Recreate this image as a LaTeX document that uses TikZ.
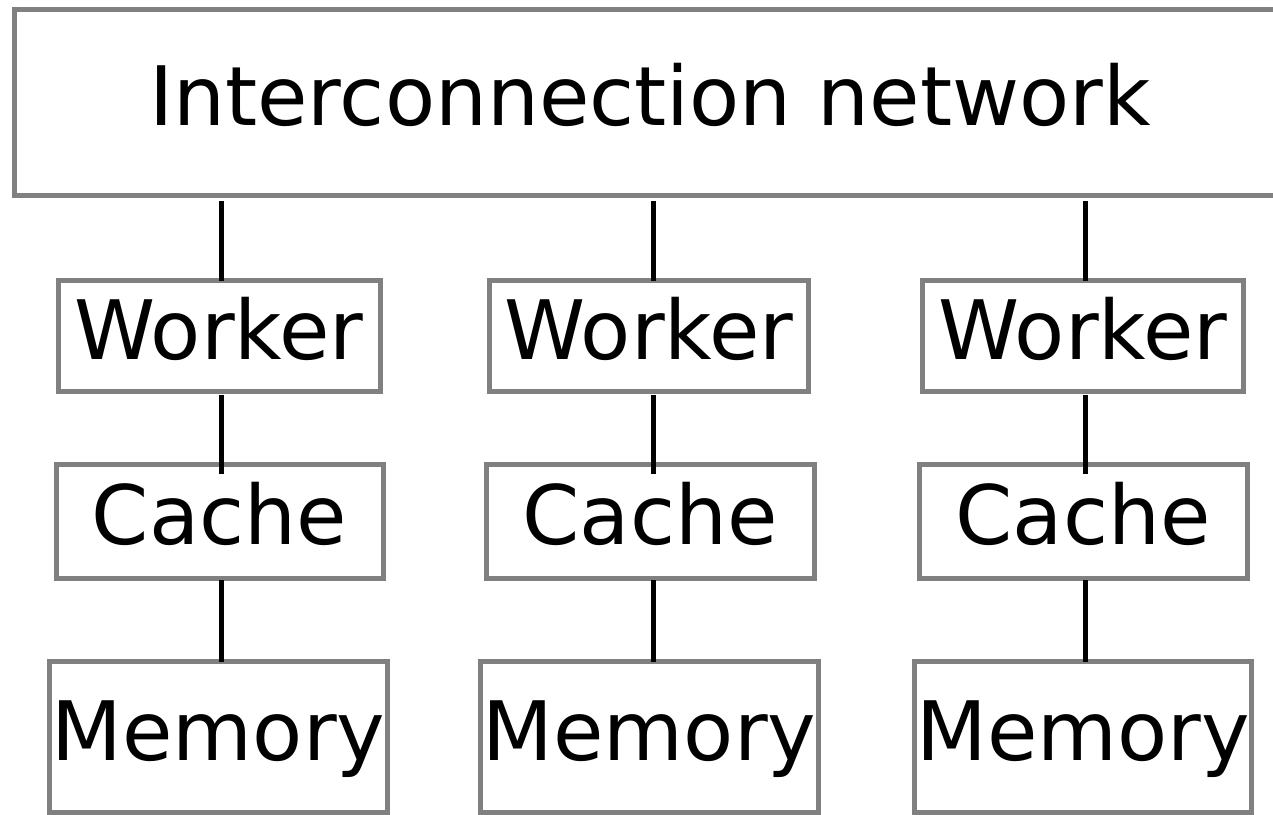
\documentclass[tikz,border=0pt]{standalone}
\usepackage{fontspec}
\setmainfont{DejaVu Sans}
\usepackage{tikz}
\usetikzlibrary{positioning}
\usepackage{xcolor}
\definecolor{BoxGray}{HTML}{808080}

\begin{document}
\begin{tikzpicture}[x=1pt, y=-1pt,
    box/.style={draw=BoxGray, fill=white, line width=5pt, inner sep=0pt, outer sep=0pt,
      font=\fontsize{82}{98}\selectfont, text height=66.5pt, text depth=19.5pt},
    link/.style={draw=black, line width=5pt}
  ]
    \useasboundingbox (0,0) rectangle (1273,814);
    \clip (0,0) rectangle (1273,814);

    \node[box, minimum width=1271pt, minimum height=185.5pt] (net) at (650, 102.25) {Interconnection network};

    \node[box, minimum width=322pt, minimum height=111pt] (w1) at (219, 336) {Worker};
    \node[box, minimum width=319pt, minimum height=111pt] (w2) at (649, 336) {Worker};
    \node[box, minimum width=321pt, minimum height=111pt] (w3) at (1083, 336) {Worker};

    \node[box, minimum width=327pt, minimum height=113.5pt] (c1) at (219.5, 521.25) {Cache};
    \node[box, minimum width=328pt, minimum height=113.5pt] (c2) at (650, 521.25) {Cache};
    \node[box, minimum width=328pt, minimum height=113.5pt] (c3) at (1083, 521.25) {Cache};

    \node[box, minimum width=338pt, minimum height=151pt] (m1) at (218.5, 737) {Memory};
    \node[box, minimum width=338pt, minimum height=151pt] (m2) at (649.5, 737) {Memory};
    \node[box, minimum width=337pt, minimum height=151pt] (m3) at (1083, 737) {Memory};

    % vertical links, each column slightly right of its box centre
    \coordinate (x1) at ([xshift=2pt]w1.center);
    \coordinate (x2) at ([xshift=4pt]w2.center);
    \coordinate (x3) at ([xshift=2pt]w3.center);

    \draw[link, shorten <=6pt] (net.south -| x1) -- (w1.north -| x1);
    \draw[link, shorten <=6pt] (net.south -| x2) -- (w2.north -| x2);
    \draw[link, shorten <=6pt] (net.south -| x3) -- (w3.north -| x3);

    \draw[link, shorten <=3pt, shorten >=-9pt] (w1.south -| x1) -- (c1.north -| x1);
    \draw[link, shorten <=3pt, shorten >=-9pt] (w2.south -| x2) -- (c2.north -| x2);
    \draw[link, shorten <=3pt, shorten >=-9pt] (w3.south -| x3) -- (c3.north -| x3);

    \draw[link, shorten <=2pt] (c1.south -| x1) -- (m1.north -| x1);
    \draw[link, shorten <=2pt] (c2.south -| x2) -- (m2.north -| x2);
    \draw[link, shorten <=2pt] (c3.south -| x3) -- (m3.north -| x3);
\end{tikzpicture}
\end{document}
